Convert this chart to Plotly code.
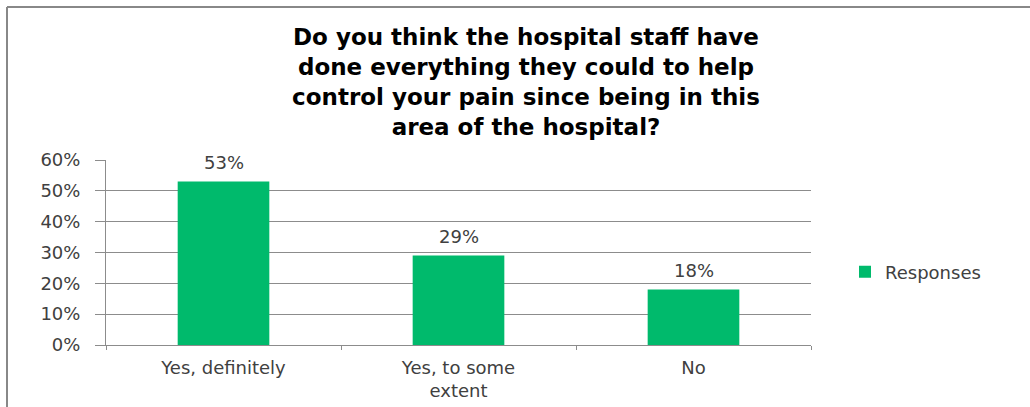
import plotly.graph_objects as go

categories = ["Yes, definitely", "Yes, to some<br>extent", "No"]
values = [0.53, 0.29, 0.18]
value_labels = ["53%", "29%", "18%"]
series_name = "Responses"
title_text = ("Do you think the hospital staff have<br>done everything they could to help<br>"
              "control your pain since being in this<br>area of the hospital?")
y_ticks = [0, 0.1, 0.2, 0.3, 0.4, 0.5, 0.6]
y_tick_labels = ["0%", "10%", "20%", "30%", "40%", "50%", "60%"]

W, H = 1030, 407
ML, MR, MT, MB = 106, 219, 160, 62
pw, ph = W - ML - MR, H - MT - MB
TXT = "#404040"
GRID = "#8C8C8C"
FONT = "DejaVu Sans"

fig = go.Figure()
fig.add_trace(go.Bar(
    x=categories, y=values, name=series_name,
    marker=dict(color="#00BA6C", line=dict(width=0)),
    showlegend=True,
))

for c, v, lab in zip(categories, values, value_labels):
    fig.add_annotation(x=c, y=v, text=lab, showarrow=False, yanchor="bottom", yshift=7,
                       font=dict(family=FONT, size=18, color=TXT))

def px_x(x):
    return (x - ML) / pw

def px_y(y):
    return (H - MB - y) / ph

fig.update_layout(
    width=W, height=H,
    margin=dict(l=ML, r=MR, t=MT, b=MB, autoexpand=False),
    paper_bgcolor="white", plot_bgcolor="white",
    bargap=0.61,
    title=dict(text=title_text, x=526 / W, xanchor="center", y=1 - 45 / H, yanchor="top",
               font=dict(family=FONT, size=23, color="#000000", weight="bold")),
    showlegend=True,
    legend=dict(x=px_x(845), xanchor="left", y=px_y(272), yanchor="middle",
                font=dict(family=FONT, size=18, color=TXT),
                bgcolor="rgba(0,0,0,0)", itemwidth=30),
    font=dict(family=FONT, size=18, color=TXT),
    shapes=[
        dict(type="line", xref="paper", yref="paper", x0=px_x(7), x1=px_x(W), y0=px_y(7), y1=px_y(7),
             line=dict(color="#888888", width=2)),
        dict(type="line", xref="paper", yref="paper", x0=px_x(7), x1=px_x(7), y0=px_y(7), y1=px_y(H),
             line=dict(color="#888888", width=2)),
    ],
)
fig.update_yaxes(
    range=[0, 0.6], tickvals=y_ticks, ticktext=y_tick_labels,
    showgrid=True, gridcolor=GRID, gridwidth=1,
    showline=True, linecolor=GRID, linewidth=1,
    ticks="outside", ticklen=10, tickcolor=GRID,
    zeroline=False, ticklabelstandoff=11, automargin=False,
    tickfont=dict(family=FONT, size=18, color=TXT),
)
fig.update_xaxes(
    showline=True, linecolor=GRID, linewidth=1,
    ticks="outside", tickson="boundaries", ticklen=4, tickcolor=GRID,
    ticklabelstandoff=6, automargin=False,
    tickfont=dict(family=FONT, size=18, color=TXT),
)

fig.write_html("out.html", config={"displayModeBar": False},
               post_script="document.body.style.margin='0';")
